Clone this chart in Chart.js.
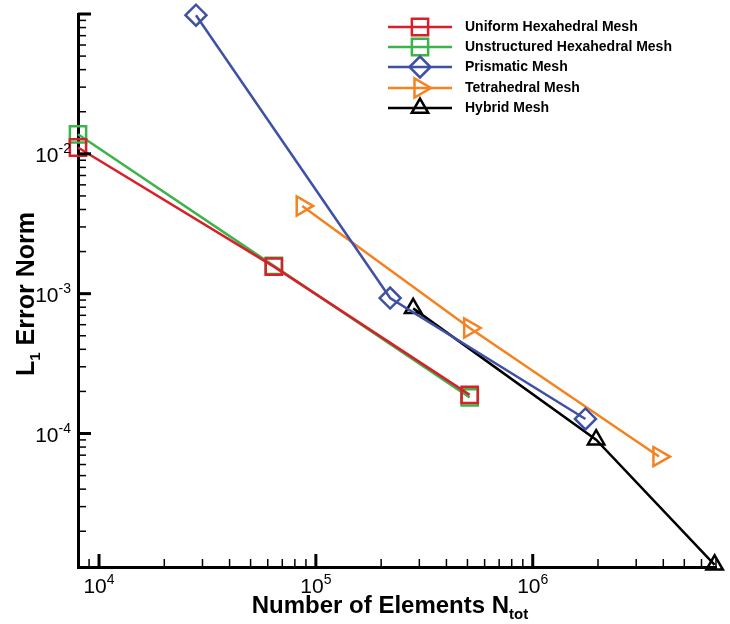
<!DOCTYPE html>
<html>
<head>
<meta charset="utf-8">
<script src="https://cdn.jsdelivr.net/npm/chart.js@4"></script>
<style>
  html, body { margin: 0; padding: 0; background: #fff; }
</style>
</head>
<body>
<canvas id="error-chart" width="730" height="624"></canvas>
<script>
// mesh convergence data
let seriesNames = ["Uniform Hexahedral Mesh", "Unstructured Hexahedral Mesh", "Prismatic Mesh", "Tetrahedral Mesh", "Hybrid Mesh"];
let uniformN = [8000, 64000, 512000];
let uniformErr = [0.0111, 0.00156, 0.000189];
let unstructN = [8000, 64000, 512000];
let unstructErr = [0.0138, 0.00158, 0.000181];
let prismN = [28000, 220000, 1750000];
let prismErr = [0.098, 0.00093, 0.000127];
let tetN = [86500, 512000, 3820000];
let tetErr = [0.00424, 0.000568, 0.0000684];
let hybridN = [281000, 1960000, 6900000];
let hybridErr = [0.000785, 0.0000903, 0.0000115];
let xTickPowers = [4, 5, 6];
let yTickPowers = [-2, -3, -4];

let colors = ["#d7202a", "#3cb44b", "#3f51a6", "#f5821f", "#000000"];
let pointStyles = ["rect", "rect", "rectRot", "triangle", "triangle"];
let rotations = [0, 0, 0, 90, 0];
let radii = [11.5, 11.5, 10.5, 11, 9.5];

let allN = [uniformN, unstructN, prismN, tetN, hybridN];
let allErr = [uniformErr, unstructErr, prismErr, tetErr, hybridErr];

let datasets = seriesNames.map((name, i) => ({
  label: name,
  data: allN[i].map((n, j) => ({ x: n, y: allErr[i][j] })),
  borderColor: colors[i],
  borderWidth: 2.5,
  pointStyle: pointStyles[i],
  rotation: rotations[i],
  pointRadius: radii[i],
  pointBorderWidth: 2.5,
  pointBorderColor: colors[i],
  pointBackgroundColor: "rgba(0,0,0,0)",
  tension: 0,
  clip: false,
}));

function drawPower(ctx, cx, baseY, exp, mode) {
  // "10" with superscript exponent; mode "right" = right edge at cx, "center" = centered
  ctx.font = "21px 'Liberation Sans', Arial, sans-serif";
  let wBase = ctx.measureText("10").width;
  ctx.font = "14px 'Liberation Sans', Arial, sans-serif";
  let wExp = ctx.measureText(String(exp)).width;
  let left = mode === "right" ? cx - wBase - wExp : cx - (wBase + wExp) / 2;
  ctx.textAlign = "left";
  ctx.textBaseline = "alphabetic";
  ctx.font = "21px 'Liberation Sans', Arial, sans-serif";
  ctx.fillText("10", left, baseY);
  ctx.font = "14px 'Liberation Sans', Arial, sans-serif";
  ctx.fillText(String(exp), left + wBase, baseY - 9);
}

const decorations = {
  id: "decorations",
  afterDraw(chart) {
    const ctx = chart.ctx;
    const xs = chart.scales.x;
    const ys = chart.scales.y;
    const area = chart.chartArea;
    ctx.save();
    ctx.strokeStyle = "#000";
    ctx.fillStyle = "#000";

    // inward ticks on y
    for (let p = Math.floor(Math.log10(ys.min)); p <= Math.ceil(Math.log10(ys.max)); p++) {
      for (let m = 1; m <= 9; m++) {
        let v = m * Math.pow(10, p);
        if (v < ys.min * 0.999 || v > ys.max * 1.001) continue;
        let py = ys.getPixelForValue(v);
        ctx.lineWidth = m === 1 ? 3 : 1.5;
        ctx.beginPath();
        ctx.moveTo(area.left, py);
        ctx.lineTo(area.left + (m === 1 ? 13 : 8), py);
        ctx.stroke();
      }
    }
    // inward ticks on x
    for (let p = Math.floor(Math.log10(xs.min)); p <= Math.ceil(Math.log10(xs.max)); p++) {
      for (let m = 1; m <= 9; m++) {
        let v = m * Math.pow(10, p);
        if (v < xs.min * 0.999 || v > xs.max * 1.001) continue;
        let px = xs.getPixelForValue(v);
        ctx.lineWidth = m === 1 ? 3 : 1.5;
        ctx.beginPath();
        ctx.moveTo(px, area.bottom);
        ctx.lineTo(px, area.bottom - (m === 1 ? 13 : 8));
        ctx.stroke();
      }
    }

    // tick labels
    yTickPowers.forEach((p) => {
      let py = ys.getPixelForValue(Math.pow(10, p));
      drawPower(ctx, 71, py + 8, p, "right");
    });
    xTickPowers.forEach((p) => {
      let px = xs.getPixelForValue(Math.pow(10, p));
      drawPower(ctx, px, area.bottom + 26, p, "center");
    });

    // axis titles
    ctx.textBaseline = "alphabetic";
    ctx.font = "bold 24px 'Liberation Sans', Arial, sans-serif";
    let main = "Number of Elements N";
    let wMain = ctx.measureText(main).width;
    ctx.font = "bold 15px 'Liberation Sans', Arial, sans-serif";
    let wSub = ctx.measureText("tot").width;
    let tx = 390 - (wMain + wSub) / 2;
    ctx.textAlign = "left";
    ctx.font = "bold 24px 'Liberation Sans', Arial, sans-serif";
    ctx.fillText(main, tx, 613);
    ctx.font = "bold 15px 'Liberation Sans', Arial, sans-serif";
    ctx.fillText("tot", tx + wMain, 619);

    ctx.save();
    ctx.translate(34, 294);
    ctx.rotate(-Math.PI / 2);
    ctx.font = "bold 25px 'Liberation Sans', Arial, sans-serif";
    let wL = ctx.measureText("L").width;
    let wRest = ctx.measureText(" Error Norm").width;
    ctx.font = "bold 15px 'Liberation Sans', Arial, sans-serif";
    let w1 = ctx.measureText("1").width;
    let start = -(wL + w1 + wRest) / 2;
    ctx.font = "bold 25px 'Liberation Sans', Arial, sans-serif";
    ctx.fillText("L", start, 0);
    ctx.fillText(" Error Norm", start + wL + w1, 0);
    ctx.font = "bold 15px 'Liberation Sans', Arial, sans-serif";
    ctx.fillText("1", start + wL, 6);
    ctx.restore();

    // legend
    let rowY = [27, 47, 67, 88, 108];
    chart.data.datasets.forEach((ds, i) => {
      let y = rowY[i];
      ctx.strokeStyle = ds.borderColor;
      ctx.lineWidth = 2.5;
      ctx.beginPath();
      ctx.moveTo(388, y);
      ctx.lineTo(452, y);
      ctx.stroke();
      ctx.fillStyle = "rgba(0,0,0,0)";
      Chart.helpers.drawPoint(ctx, {
        pointStyle: ds.pointStyle,
        rotation: ds.rotation,
        radius: ds.pointRadius,
        borderWidth: 2.5,
      }, 420, y);
      ctx.fillStyle = "#000";
      ctx.font = "bold 14px 'Liberation Sans', Arial, sans-serif";
      ctx.textAlign = "left";
      ctx.textBaseline = "middle";
      ctx.fillText(ds.label, 465, y);
    });
    ctx.restore();
  },
};

let errorChart = new Chart(document.getElementById("error-chart").getContext("2d"), {
  type: "line",
  data: { datasets: datasets },
  options: {
    responsive: false,
    animation: false,
    layout: { padding: { left: 78, right: 10.6, top: 11, bottom: 57 } },
    plugins: {
      legend: { display: false },
      tooltip: { enabled: false },
    },
    scales: {
      x: {
        type: "logarithmic",
        min: 8000,
        max: 7000000,
        grid: { display: false, drawTicks: false },
        border: { display: true, color: "#000", width: 3 },
        ticks: { display: false },
      },
      y: {
        type: "logarithmic",
        min: 0.0000111,
        max: 0.1,
        grid: { display: false, drawTicks: false },
        border: { display: true, color: "#000", width: 3 },
        ticks: { display: false },
      },
    },
  },
  plugins: [decorations],
});
</script>
</body>
</html>
